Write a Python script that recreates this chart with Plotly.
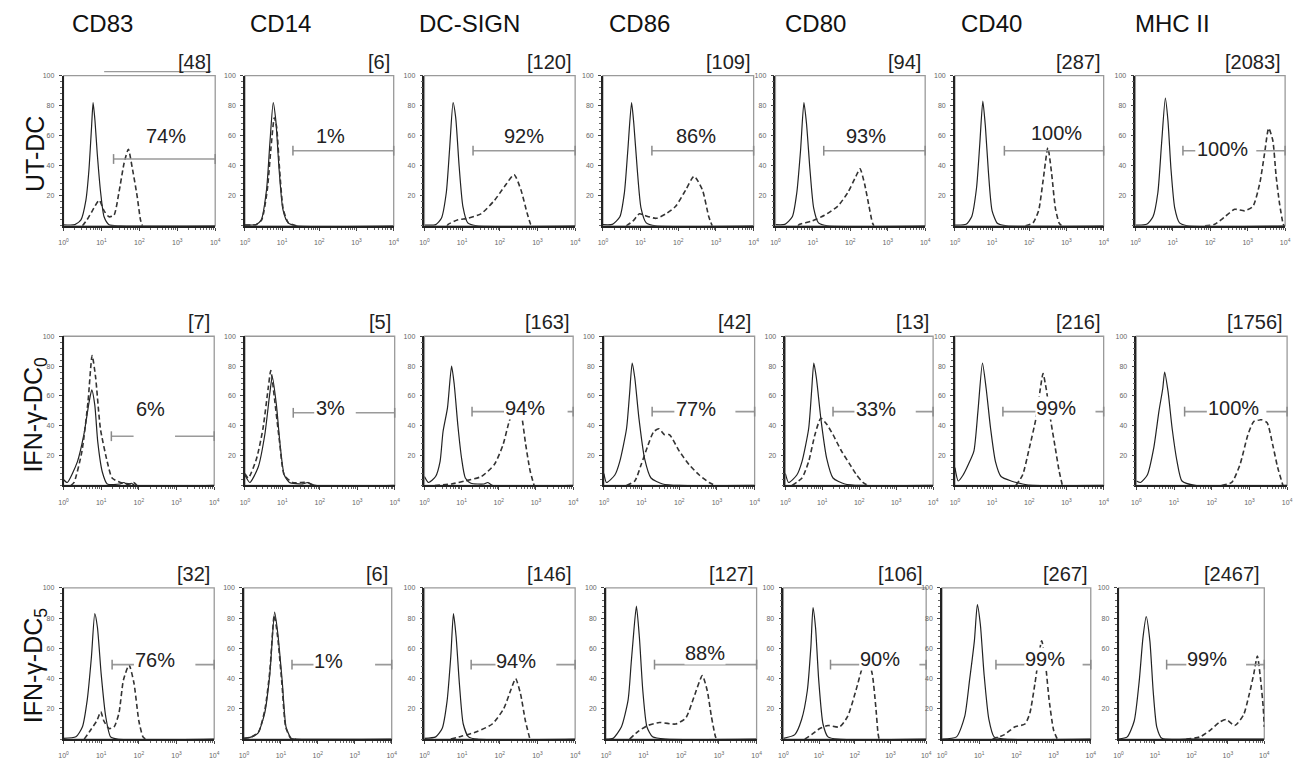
import plotly.graph_objects as go

# ---------------- data ----------------
markers = ["CD83", "CD14", "DC-SIGN", "CD86", "CD80", "CD40", "MHC II"]
row_labels = ["UT-DC", "IFN-γ-DC<sub>0</sub>", "IFN-γ-DC<sub>5</sub>"]

# MFI labels
mfi_ut = ["[48]", "[6]", "[120]", "[109]", "[94]", "[287]", "[2083]"]
mfi_dc0 = ["[7]", "[5]", "[163]", "[42]", "[13]", "[216]", "[1756]"]
mfi_dc5 = ["[32]", "[6]", "[146]", "[127]", "[106]", "[267]", "[2467]"]

# percent positive
pct_ut = ["74%", "1%", "92%", "86%", "93%", "100%", "100%"]
pct_dc0 = ["6%", "3%", "94%", "77%", "33%", "99%", "100%"]
pct_dc5 = ["76%", "1%", "94%", "88%", "90%", "99%", "99%"]

# histogram curves: [log10 fluorescence, % of max]
# isotype (solid) and marker (dashed)
ut_iso = {
    "CD83": [[0,0.7],[0.3,0.8],[0.46,4],[0.59,17],[0.67,37],[0.74,66],[0.78,82],[0.83,70],[0.89,48],[0.98,22],[1.07,6],[1.2,0.7],[1.5,0],[4,0]],
    "CD14": [[0,0.5],[0.3,0.8],[0.44,4],[0.58,24],[0.67,55],[0.76,82],[0.83,70],[0.92,37],[1.02,11],[1.16,2],[1.4,0],[4,0]],
    "DC-SIGN": [[0,0.5],[0.3,0.8],[0.45,5],[0.58,22],[0.67,52],[0.76,82],[0.83,72],[0.92,40],[1.02,13],[1.15,2],[1.4,0],[4,0]],
    "CD86": [[0,0.8],[0.25,1],[0.45,6],[0.57,22],[0.66,50],[0.76,82],[0.82,68],[0.91,38],[1.01,12],[1.15,2],[1.4,0],[4,0]],
    "CD80": [[0,0.8],[0.25,1],[0.45,6],[0.57,22],[0.67,50],[0.76,82],[0.83,68],[0.92,38],[1.02,12],[1.15,2],[1.4,0],[4,0]],
    "CD40": [[0,0.5],[0.3,1],[0.45,6],[0.58,25],[0.67,55],[0.75,83],[0.82,66],[0.9,36],[1.0,10],[1.15,1.5],[1.4,0],[4,0]],
    "MHC II": [[0,0.5],[0.3,1],[0.47,6],[0.6,22],[0.7,55],[0.8,85],[0.87,70],[0.95,38],[1.05,12],[1.18,2],[1.4,0],[4,0]],
}
ut_mk = {
    "CD83": [[0.5,0],[0.62,4],[0.76,10],[0.94,17],[1.07,10],[1.2,6],[1.33,7],[1.46,22],[1.6,42],[1.71,51],[1.81,39],[1.94,20],[2.03,4],[2.08,0]],
    "CD14": [[0,0.5],[0.3,0.8],[0.45,4],[0.6,24],[0.7,52],[0.79,72],[0.85,66],[0.93,38],[1.03,11],[1.17,2],[1.4,0]],
    "DC-SIGN": [[0.6,0],[0.63,1],[0.89,4],[1.15,5],[1.5,8],[1.86,17],[2.12,26],[2.38,34],[2.56,24],[2.73,8],[2.82,1],[2.86,0]],
    "CD86": [[0.62,0],[0.79,3],[0.97,8],[1.1,7],[1.41,5],[1.67,8],[1.93,13],[2.2,24],[2.42,33],[2.64,24],[2.81,6],[2.9,0]],
    "CD80": [[0.6,0],[0.65,1],[0.95,3],[1.31,7],[1.66,13],[1.93,22],[2.15,33],[2.26,38],[2.38,28],[2.5,13],[2.59,2],[2.63,0]],
    "CD40": [[1.9,0],[2.1,2],[2.25,10],[2.37,30],[2.5,52],[2.6,35],[2.7,12],[2.8,2],[2.87,0]],
    "MHC II": [[1.86,0],[2.12,1],[2.39,6],[2.65,11],[2.92,10],[3.14,13],[3.32,28],[3.45,48],[3.56,65],[3.67,57],[3.76,33],[3.85,15],[3.94,2],[3.97,0]],
}
dc0_iso = {
    "CD83": [[0,4],[0.1,2],[0.37,16],[0.54,34],[0.68,56],[0.75,64],[0.83,54],[0.91,29],[1.03,9],[1.16,1],[1.5,1],[1.6,2],[1.7,0.5],[1.8,1.5],[1.9,0],[4,0]],
    "CD14": [[0,7],[0.13,2],[0.35,12],[0.53,34],[0.66,61],[0.73,73],[0.84,54],[0.94,27],[1.05,7],[1.19,2],[1.54,1],[1.67,2],[1.89,0],[4,0]],
    "DC-SIGN": [[0,6],[0.11,2],[0.3,6],[0.42,16],[0.5,36],[0.62,52],[0.73,80],[0.8,68],[0.9,40],[1.0,18],[1.1,5],[1.25,1.5],[1.6,1],[1.7,2],[1.84,0],[4,0]],
    "CD86": [[0,8],[0.07,2],[0.29,7],[0.42,16],[0.6,38],[0.68,61],[0.75,82],[0.82,72],[0.93,45],[1.08,18],[1.25,5],[1.56,1],[2.0,0],[4,0]],
    "CD80": [[0,8],[0.09,2],[0.31,7],[0.45,16],[0.63,38],[0.71,63],[0.77,82],[0.84,72],[0.96,45],[1.12,18],[1.29,5],[1.61,1],[2.05,0],[4,0]],
    "CD40": [[0,12],[0.09,3],[0.22,7],[0.36,14],[0.51,23],[0.62,50],[0.74,82],[0.84,65],[0.96,38],[1.09,16],[1.24,6],[1.51,3],[1.82,1],[2.09,0],[4,0]],
    "MHC II": [[0,3],[0.11,2],[0.29,7],[0.46,25],[0.6,50],[0.7,65],[0.75,76],[0.84,63],[0.95,38],[1.08,16],[1.21,3],[1.56,0],[4,0]],
}
dc0_mk = {
    "CD83": [[0.2,0],[0.28,2],[0.49,23],[0.65,56],[0.76,87],[0.85,73],[0.98,38],[1.16,16],[1.29,5],[1.51,2],[1.78,1],[1.86,2],[1.95,0]],
    "CD14": [[0,8],[0.09,5],[0.31,18],[0.48,38],[0.62,65],[0.69,77],[0.79,58],[0.92,30],[1.05,7],[1.27,2],[1.67,2],[1.8,0]],
    "DC-SIGN": [[0.28,0],[0.73,1],[1.08,3],[1.53,6],[1.88,14],[2.11,27],[2.28,43],[2.42,52],[2.52,56],[2.62,46],[2.72,28],[2.84,10],[2.95,0]],
    "CD86": [[0.6,0],[0.82,3],[0.99,14],[1.17,27],[1.32,36],[1.46,38],[1.61,34],[1.74,34],[2.0,23],[2.26,14],[2.53,7],[2.79,2],[2.96,0]],
    "CD80": [[0.18,0],[0.45,5],[0.63,16],[0.8,34],[0.96,45],[1.12,41],[1.29,34],[1.52,23],[1.75,14],[1.93,7],[2.1,2],[2.23,0]],
    "CD40": [[1.64,0],[1.82,7],[2.0,25],[2.18,45],[2.31,67],[2.37,75],[2.46,64],[2.58,43],[2.7,25],[2.8,10],[2.89,0]],
    "MHC II": [[2.26,0],[2.53,2],[2.75,14],[2.96,34],[3.12,43],[3.32,44],[3.47,42],[3.62,27],[3.75,12],[3.89,0]],
}
dc5_iso = {
    "CD83": [[0,0.5],[0.33,1.5],[0.5,8],[0.63,26],[0.74,54],[0.83,83],[0.9,74],[1.0,43],[1.12,15],[1.25,1.5],[1.43,0],[4,0]],
    "CD14": [[0,0.5],[0.21,1.5],[0.38,4],[0.56,17],[0.7,43],[0.83,84],[0.92,69],[1.04,37],[1.14,8],[1.28,0.5],[1.41,0],[4,0]],
    "DC-SIGN": [[0,0.5],[0.3,1.5],[0.47,7],[0.6,25],[0.7,55],[0.77,83],[0.84,68],[0.93,36],[1.03,10],[1.17,1.5],[1.4,0],[4,0]],
    "CD86": [[0,0],[0.19,0.5],[0.41,8],[0.59,26],[0.67,50],[0.72,65],[0.81,88],[0.89,67],[0.98,32],[1.09,8],[1.24,1.5],[1.59,0],[4,0]],
    "CD80": [[0,0.5],[0.32,3],[0.51,13],[0.67,32],[0.77,61],[0.83,87],[0.9,74],[0.99,39],[1.11,10],[1.25,1.5],[1.52,0],[4,0]],
    "CD40": [[0,0],[0.39,1.5],[0.61,15],[0.74,39],[0.87,65],[0.95,89],[1.03,76],[1.13,43],[1.26,13],[1.4,1.5],[1.7,0],[4,0]],
    "MHC II": [[0,0],[0.24,1.5],[0.43,12],[0.57,39],[0.67,67],[0.76,81],[0.86,65],[0.95,32],[1.05,8],[1.19,0.5],[1.86,0],[4,0]],
}
dc5_mk = {
    "CD83": [[0.55,0],[0.72,6],[0.88,12],[0.99,18],[1.07,12],[1.21,7],[1.34,8],[1.47,17],[1.59,39],[1.74,49],[1.87,37],[2.0,12],[2.11,1.5],[2.18,0]],
    "CD14": [[0,0.5],[0.21,1.5],[0.4,5],[0.57,20],[0.7,45],[0.82,82],[0.91,68],[1.03,36],[1.13,8],[1.27,0.5],[1.4,0]],
    "DC-SIGN": [[0.7,0],[1.0,2],[1.4,5],[1.8,10],[2.1,20],[2.3,33],[2.42,40],[2.55,30],[2.68,12],[2.8,0]],
    "CD86": [[0.63,0],[0.85,5],[1.11,9],[1.42,11],[1.85,10],[2.12,14],[2.34,28],[2.56,42],[2.69,32],[2.8,15],[2.91,1.5],[2.95,0]],
    "CD80": [[0.6,0],[0.79,3],[1.02,7],[1.25,9],[1.57,8],[1.8,15],[2.03,32],[2.22,48],[2.35,54],[2.49,43],[2.59,21],[2.65,4],[2.68,0]],
    "CD40": [[1.36,0],[1.68,3],[1.95,8],[2.23,10],[2.36,17],[2.5,37],[2.68,65],[2.79,48],[2.88,26],[3.0,6],[3.1,0]],
    "MHC II": [[1.86,0],[2.24,1.5],[2.52,6],[2.76,11],[2.95,13],[3.19,9],[3.43,16],[3.57,28],[3.71,43],[3.81,55],[3.9,39],[3.97,21],[4.0,8]],
}

# gate markers: (gate level %, gate start log10, gap start, gap end) in data units
gates_ut = [(44.5,1.32,None,None),(50,1.29,None,None),(50,1.29,None,None),(50,1.30,None,None),
            (50,1.29,None,None),(50,1.33,None,None),(50,1.27,1.6,3.23)]
gates_dc0 = [(33,1.27,1.86,2.96),(48.7,1.29,1.85,2.96),(49.5,1.28,2.14,3.85),(49.5,1.28,1.87,3.49),
             (49.5,1.29,1.87,3.53),(49.5,1.29,2.18,3.78),(49.5,1.28,1.87,3.45)]
gates_dc5 = [(49.3,1.29,1.87,3.5),(49.3,1.30,1.9,3.55),(49.3,1.24,1.95,3.5),(49.3,1.29,None,None),
             (49.3,1.32,2.13,3.81),(49.3,1.45,2.22,3.78),(49.3,1.32,1.87,3.5)]

# ---------------- layout (pixels) ----------------
W, H = 1305, 763
row_tb = [(72, 223), (334, 484), (587, 739)]
col_lr = [
    [(59,212),(242,392),(423,575),(603,755),(777,928),(958,1108),(1140,1291)],
    [(59,211),(242,393),(423,573),(604,756),(787,936),(958,1108),(1141,1293)],
    [(59,211),(241,390),(423,575),(606,758),(785,929),(945,1095),(1123,1270)],
]
# percent label placement (log10 x, y%)
pct_pos = [
    [(2.7,60),(2.31,60),(2.64,60),(2.46,60),(2.41,60),(2.72,62),(2.34,51)],
    [(2.30,51.5),(2.29,52),(2.71,52),(2.44,51.5),(2.45,51.5),(2.71,52),(2.57,52)],
    [(2.44,52.6),(2.30,52),(2.42,52),(2.63,57),(2.71,53),(2.76,53),(2.43,53)],
]
header_x = [98, 278, 468, 640, 817, 995, 1177]
row_label_y = [151, 413, 665]

rows = [
    (ut_iso, ut_mk, mfi_ut, pct_ut, gates_ut),
    (dc0_iso, dc0_mk, mfi_dc0, pct_dc0, gates_dc0),
    (dc5_iso, dc5_mk, mfi_dc5, pct_dc5, gates_dc5),
]

FONT = "Liberation Sans, Arial, sans-serif"
fig = go.Figure()
layout = dict(width=W, height=H, margin=dict(l=0, r=0, t=0, b=0),
              paper_bgcolor="white", plot_bgcolor="white", showlegend=False,
              font=dict(family=FONT))
annotations, shapes = [], []

minor_x = [m * 10 ** d for d in range(4) for m in range(2, 10)]

for r, (iso, mk, mfi, pct, gates) in enumerate(rows):
    top, bot = row_tb[r]
    for c, name in enumerate(markers):
        i = r * 7 + c + 1
        xa = "x" if i == 1 else f"x{i}"
        ya = "y" if i == 1 else f"y{i}"
        xk = "xaxis" if i == 1 else f"xaxis{i}"
        yk = "yaxis" if i == 1 else f"yaxis{i}"
        left, right = col_lr[r][c]
        layout[xk] = dict(
            type="log", range=[0, 4], domain=[left / W, right / W], anchor=ya,
            showline=True, linecolor="#222", linewidth=1.5, mirror=False,
            ticks="outside", ticklen=3, tickcolor="#444", tickwidth=1,
            tickvals=[1, 10, 100, 1000, 10000],
            ticktext=[f"10<sup>{k}</sup>" for k in range(5)],
            tickfont=dict(size=7, color="#666"), ticklabelstandoff=6,
            minor=dict(tickvals=minor_x, ticks="outside", ticklen=2, tickcolor="#666"),
            showgrid=False, zeroline=False, fixedrange=True)
        layout[yk] = dict(
            range=[0, 100], domain=[1 - bot / H, 1 - top / H], anchor=xa,
            showline=True, linecolor="#222", linewidth=1.5,
            ticks="outside", ticklen=3, tickcolor="#444",
            tickvals=[20, 40, 60, 80, 100],
            tickfont=dict(size=7, color="#666"), ticklabelstandoff=3,
            minor=dict(dtick=4, ticks="outside", ticklen=2, tickcolor="#666"),
            showgrid=False, zeroline=False, fixedrange=True)
        # frame
        shapes.append(dict(type="rect", xref=f"{xa} domain", yref=f"{ya} domain",
                           x0=0, x1=1, y0=0, y1=1, line=dict(color="#9a9a9a", width=1.3), layer="below"))
        # curves
        s = iso[name]
        d = mk[name]
        fig.add_trace(go.Scatter(x=[10 ** p[0] for p in s], y=[p[1] for p in s], xaxis=xa, yaxis=ya,
                                 mode="lines", line=dict(color="#222", width=1.2, shape="spline", smoothing=0.6),
                                 hoverinfo="skip"))
        fig.add_trace(go.Scatter(x=[10 ** p[0] for p in d], y=[p[1] for p in d], xaxis=xa, yaxis=ya,
                                 mode="lines", line=dict(color="#333", width=1.6, dash="5px,3px",
                                                         shape="spline", smoothing=0.6),
                                 hoverinfo="skip"))
        # gate
        gy, g0, ga, gb = gates[c]
        if ga is None:
            gx = [10 ** g0, 10 ** 4]
            gyy = [gy, gy]
        else:
            gx = [10 ** g0, 10 ** ga, None, 10 ** gb, 10 ** 4]
            gyy = [gy, gy, None, gy, gy]
        fig.add_trace(go.Scatter(x=gx, y=gyy, xaxis=xa, yaxis=ya, mode="lines",
                                 line=dict(color="#9a9a9a", width=1.6), hoverinfo="skip", cliponaxis=False))
        fig.add_trace(go.Scatter(x=[10 ** g0, 10 ** 4], y=[gy, gy], xaxis=xa, yaxis=ya, mode="markers",
                                 marker=dict(symbol="line-ns", size=7, line=dict(color="#8a8a8a", width=1.5)),
                                 hoverinfo="skip", cliponaxis=False))
        # percent text
        px_, py_ = pct_pos[r][c]
        annotations.append(dict(xref=xa, yref=ya, x=px_, y=py_, text=pct[c], showarrow=False,
                                font=dict(size=20, color="#222", family=FONT),
                                bgcolor="white", borderpad=0, xanchor="center", yanchor="middle"))
        # MFI label
        annotations.append(dict(xref="paper", yref="paper", x=(right - 3) / W, y=1 - (top - 2) / H,
                                text=mfi[c], showarrow=False, xanchor="right", yanchor="bottom",
                                font=dict(size=20, color="#222", family=FONT), borderpad=0))

# column headers
for c, name in enumerate(markers):
    annotations.append(dict(xref="paper", yref="paper", x=header_x[c] / W, y=1 - 20 / H,
                            text=name, showarrow=False, xanchor="center", yanchor="middle",
                            font=dict(size=24, color="#111", family=FONT)))
# row labels
for r, lab in enumerate(row_labels):
    annotations.append(dict(xref="paper", yref="paper", x=30 / W, y=1 - row_label_y[r] / H,
                            text=lab, showarrow=False, textangle=-90, xanchor="center", yanchor="middle",
                            font=dict(size=25, color="#111", family=FONT)))

# stray line above first panel
shapes.append(dict(type="line", xref="paper", yref="paper", x0=100 / W, x1=208 / W,
                   y0=1 - 68 / H, y1=1 - 68 / H, line=dict(color="#9a9a9a", width=1.3)))

layout["annotations"] = annotations
layout["shapes"] = shapes
fig.update_layout(**layout)
fig.write_html("out.html")
